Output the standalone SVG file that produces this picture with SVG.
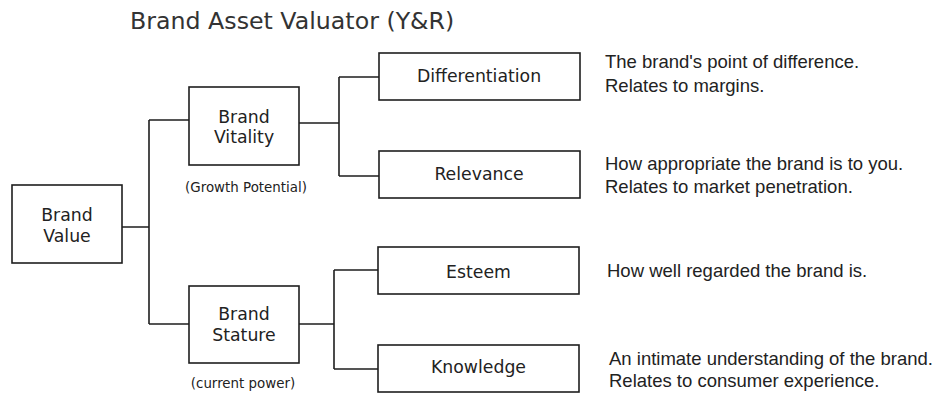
<svg xmlns="http://www.w3.org/2000/svg" width="938" height="396" viewBox="0 0 938 396">
<style>
.box{fill:#fff;stroke:#1e1e1e;stroke-width:1.6}
.con{fill:none;stroke:#1e1e1e;stroke-width:1.6}
.bt{font-family:"DejaVu Sans",Verdana,sans-serif;font-size:17.3px;fill:#222;text-anchor:middle}
.sm{font-family:"DejaVu Sans",Verdana,sans-serif;font-size:13.4px;fill:#222;text-anchor:middle}
.desc{font-family:"Liberation Sans",Arial,sans-serif;font-size:18.5px;fill:#222}
.title{font-family:"DejaVu Sans",Verdana,sans-serif;font-size:23.7px;fill:#333}
</style>
<rect width="938" height="396" fill="#fff"/>
<text class="title" x="130" y="29">Brand Asset Valuator (Y&amp;R)</text>
<g id="connectors">
<path class="con" d="M122,227H149M149,120V324M149,120H189M149,324H189"/>
<path class="con" d="M299,123H339M339,77V176M339,77H379M339,176H379"/>
<path class="con" d="M299,324H334M334,270V369M334,270H378M334,369H378"/>
</g>
<g id="brand-value">
<rect class="box" x="12" y="185" width="110" height="78"/>
<text class="bt" x="67" y="221">Brand</text>
<text class="bt" x="67" y="242">Value</text>
</g>
<g id="brand-vitality">
<rect class="box" x="189" y="87" width="110" height="78"/>
<text class="bt" x="244" y="123">Brand</text>
<text class="bt" x="244" y="143">Vitality</text>
<text class="sm" x="246" y="192">(Growth Potential)</text>
</g>
<g id="brand-stature">
<rect class="box" x="189" y="286" width="110" height="77"/>
<text class="bt" x="244" y="320">Brand</text>
<text class="bt" x="244" y="341">Stature</text>
<text class="sm" x="243" y="388">(current power)</text>
</g>
<g id="differentiation">
<rect class="box" x="379" y="53" width="201" height="47"/>
<text class="bt" x="479" y="82">Differentiation</text>
<text class="desc" x="605" y="68">The brand's point of difference.</text>
<text class="desc" x="605" y="92">Relates to margins.</text>
</g>
<g id="relevance">
<rect class="box" x="379" y="151" width="201" height="47"/>
<text class="bt" x="479" y="180">Relevance</text>
<text class="desc" x="605" y="170">How appropriate the brand is to you.</text>
<text class="desc" x="605" y="193">Relates to market penetration.</text>
</g>
<g id="esteem">
<rect class="box" x="378" y="247" width="201" height="47"/>
<text class="bt" x="478.5" y="278">Esteem</text>
<text class="desc" x="607" y="277">How well regarded the brand is.</text>
</g>
<g id="knowledge">
<rect class="box" x="378" y="345" width="201" height="47"/>
<text class="bt" x="478.5" y="373">Knowledge</text>
<text class="desc" x="609" y="365">An intimate understanding of the brand.</text>
<text class="desc" x="609" y="387">Relates to consumer experience.</text>
</g>
</svg>
